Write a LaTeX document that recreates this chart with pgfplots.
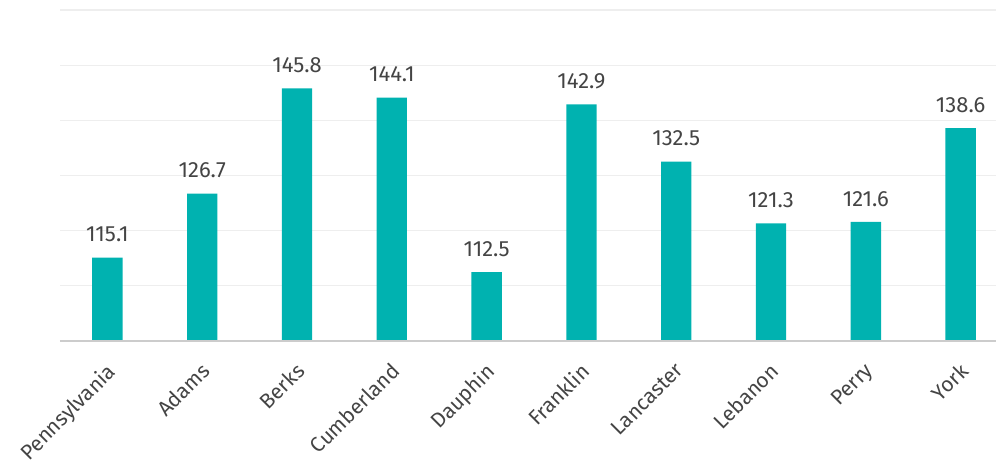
\documentclass[border=0pt]{standalone}
\usepackage{pgfplots}
\pgfplotsset{compat=1.18}
\usepackage{fontspec}
\setmainfont{Fira Sans}
\definecolor{barc}{HTML}{00B2B0}
\definecolor{txt}{HTML}{444444}
\definecolor{gridc}{HTML}{EEEEEE}
\definecolor{basec}{HTML}{CCCCCC}
\begin{document}
\begin{tikzpicture}
\path[use as bounding box] (-60pt,-124pt) rectangle (936pt,341pt);
\begin{axis}[
    at={(0,0)}, anchor=south west,
    scale only axis,
    width=936pt, height=331pt,
    ybar, bar width=0.32,
    xmin=-0.5, xmax=9.373,
    ymin=100, ymax=160,
    ytick={100,110,...,160}, yticklabels={},
    xtick=data,
    xticklabels={Pennsylvania,Adams,Berks,Cumberland,Dauphin,Franklin,Lancaster,Lebanon,Perry,York},
    x tick label style={xshift=-2pt, yshift=-19pt, rotate=45, anchor=north east, font=\fontsize{21}{23}\selectfont, text=txt, inner sep=1pt},
    ymajorgrids=true,
    grid style={gridc, line width=1.2pt},
    axis line style={draw=none},
    major tick length=0pt,
    clip=false,
    nodes near coords,
    nodes near coords style={font=\fontsize{22}{24}\selectfont, text=txt, anchor=south, yshift=12pt},
    /pgf/number format/fixed, /pgf/number format/fixed zerofill, /pgf/number format/precision=1,
    /pgf/number format/assume math mode=true,
]
\addplot[fill=barc, draw=none] coordinates {(0,115.1)(1,126.7)(2,145.8)(3,144.1)(4,112.5)(5,142.9)(6,132.5)(7,121.3)(8,121.6)(9,138.6)};
\draw[basec, line width=1.5pt] (axis cs:-0.5,100) -- (axis cs:9.373,100);
\end{axis}
\end{tikzpicture}
\end{document}
